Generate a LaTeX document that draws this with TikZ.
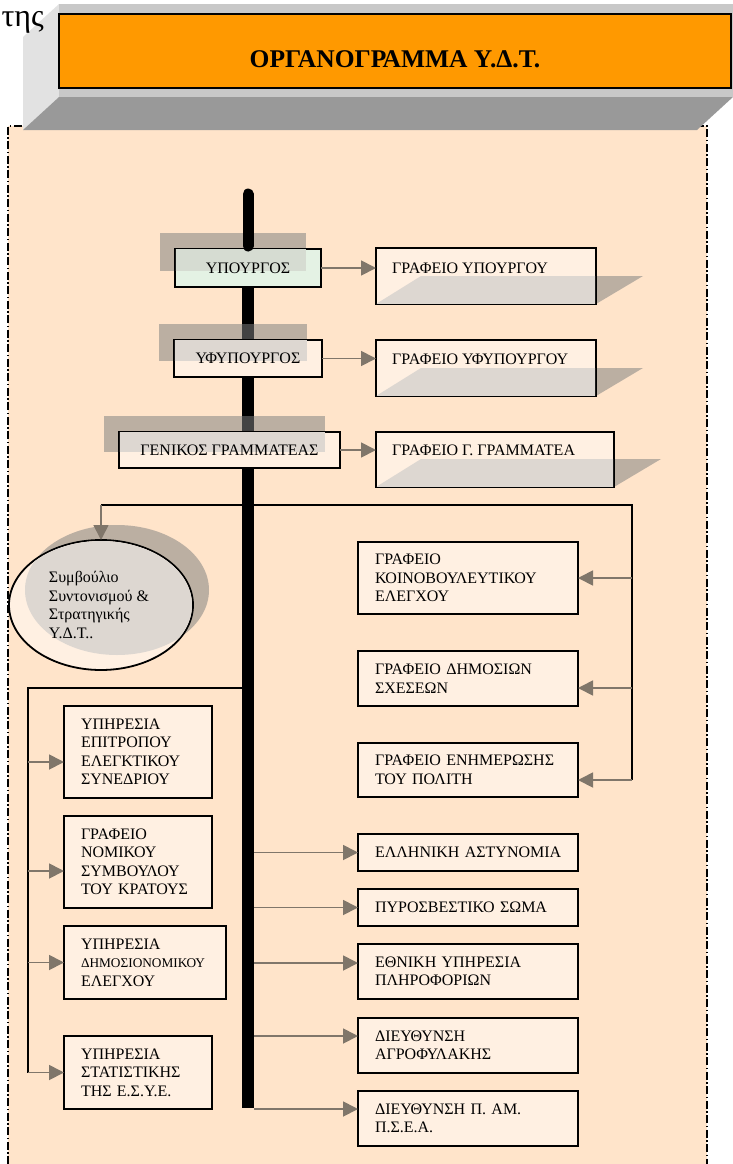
\documentclass[tikz,border=0pt]{standalone}
\usepackage{fontspec}
\setmainfont{Liberation Serif}
\usetikzlibrary{arrows.meta,shapes.geometric,calc}
\definecolor{peach}{RGB}{255,228,202}
\definecolor{boxfill}{RGB}{255,240,226}
\definecolor{ovlcol}{RGB}{221,215,209}
\definecolor{shgray}{RGB}{128,128,128}
\definecolor{arrcol}{RGB}{128,118,106}
\definecolor{mint}{RGB}{228,242,228}
\definecolor{mintovl}{RGB}{214,220,210}
\definecolor{titleorange}{RGB}{255,153,0}
\definecolor{stripgray}{RGB}{200,200,200}
\definecolor{facegray}{RGB}{226,226,226}
\definecolor{bevelgray}{RGB}{153,153,153}
\tikzset{
  bodyfont/.style={font=\fontsize{16}{18.5}\selectfont},
  obox/.style={draw=black, line width=1.8pt, fill=boxfill, inner sep=0pt, outer sep=0pt, bodyfont},
  lbox/.style={obox, text width=114pt, inner xsep=17pt, align=left},
  rbox/.style={obox, text width=186pt, inner xsep=17pt, align=left},
  gbox/.style={obox, inner xsep=16pt, align=left, anchor=north west},
  cbox/.style={obox, minimum height=37pt},
  shadowfill/.style={fill=shgray, fill opacity=0.53},
  ovl/.style={fill=ovlcol},
  conn/.style={draw=black, line width=1.5pt},
  arr/.style={draw=arrcol, line width=1.8pt, -{Triangle[length=15pt,width=15pt]}},
  panelborder/.style={draw=black, line width=2pt, dash pattern=on 8pt off 2.5pt on 1.5pt off 2.5pt},
}
\begin{document}
\begin{tikzpicture}[x=1pt,y=-1pt]
\useasboundingbox (0,0) rectangle (733,1164);
% panel
\fill[peach] (8,126) rectangle (707,1164);
\draw[panelborder] (8,1164) -- (8,126) -- (707,126) -- (707,1164);
% title block
\fill[facegray] (59,4) -- (23,37) -- (23,130) -- (59,97) -- cycle;
\fill[stripgray] (59,4) rectangle (733,97);
\fill[bevelgray] (59,97) -- (733,97) -- (697,130) -- (23,130) -- cycle;
\node[draw=black, line width=1.6pt, fill=titleorange, minimum width=672pt, inner sep=0pt, outer sep=0pt,
      text height=53pt, text depth=21pt, font=\fontsize{25.5}{28}\selectfont\bfseries] (title) at (395,51) {ΟΡΓΑΝΟΓΡΑΜΜΑ Υ.Δ.Τ.};
\node[anchor=base east, inner sep=0pt, font=\fontsize{32}{36}\selectfont] (tes) at (44,27) {της};
% bracket lines
\coordinate (tb1) at (101,505);
\coordinate (tb2) at (632,505);
\coordinate (tb3) at (632,780);
\draw[conn] (tb1) -- (tb2) -- (tb3);
\coordinate (lbA) at (248,688);
\coordinate (lbB) at (28,688);
\coordinate (lbC) at (28,1073);
\draw[conn] (lbA) -- (lbB) -- (lbC);
% spine
\coordinate (sptop) at (248,251);
\coordinate (spbot) at (248,1108);
\coordinate (spr) at (254,0);
\draw[line width=12pt] (sptop) -- (spbot);
% shadows
\fill[shadowfill] (160,233) rectangle (306,271);
\fill[shadowfill] (159,324) rectangle (307,361);
\fill[shadowfill] (104,416) rectangle (325,452);
\fill[shadowfill] (376,304) -- (421,276) -- (643,276) -- (596,304) -- cycle;
\fill[shadowfill] (376,396) -- (421,368) -- (643,368) -- (596,396) -- cycle;
\fill[shadowfill] (376,487) -- (421,459) -- (661,459) -- (614,487) -- cycle;
\fill[shadowfill] (117,590) ellipse [x radius=92, y radius=65];
% top boxes
\node[cbox, fill=mint, minimum width=146pt, minimum height=38pt] (yp) at (248,268) {};
\node[cbox, minimum width=148pt] (yfyp) at (248,358.5) {};
\node[cbox, minimum width=221pt, minimum height=36pt] (gg) at (229.5,450) {};
\node[gbox, text width=188pt, text height=25pt, text depth=31pt] (gyp) at (376,248) {};
\node[gbox, text width=188pt, text height=24pt, text depth=32pt] (gyfyp) at (376,340) {};
\node[gbox, text width=206pt, text height=23pt, text depth=32pt] (ggg) at (376,432) {};
% ellipse
\node[ellipse, draw=black, line width=1.8pt, fill=boxfill, minimum width=184pt, minimum height=130pt,
      inner sep=0pt, outer sep=0pt] (sc) at (101,605) {};
% overlaps of shadows inside shapes
\begin{scope}
  \clip ([shift={(0.9pt,0.9pt)}]yp.south west) rectangle ([shift={(-0.9pt,-0.9pt)}]yp.north east);
  \fill[mintovl] (160,233) rectangle (306,271);
\end{scope}
\begin{scope}
  \clip ([shift={(0.9pt,0.9pt)}]yfyp.south west) rectangle ([shift={(-0.9pt,-0.9pt)}]yfyp.north east);
  \fill[ovl] (159,324) rectangle (307,361);
\end{scope}
\begin{scope}
  \clip ([shift={(0.9pt,0.9pt)}]gg.south west) rectangle ([shift={(-0.9pt,-0.9pt)}]gg.north east);
  \fill[ovl] (104,416) rectangle (325,452);
\end{scope}
\begin{scope}
  \clip ([shift={(0.9pt,0.9pt)}]gyp.south west) rectangle ([shift={(-0.9pt,-0.9pt)}]gyp.north east);
  \fill[ovl] (376,304) -- (421,276) -- (643,276) -- (596,304) -- cycle;
\end{scope}
\begin{scope}
  \clip ([shift={(0.9pt,0.9pt)}]gyfyp.south west) rectangle ([shift={(-0.9pt,-0.9pt)}]gyfyp.north east);
  \fill[ovl] (376,396) -- (421,368) -- (643,368) -- (596,396) -- cycle;
\end{scope}
\begin{scope}
  \clip ([shift={(0.9pt,0.9pt)}]ggg.south west) rectangle ([shift={(-0.9pt,-0.9pt)}]ggg.north east);
  \fill[ovl] (376,487) -- (421,459) -- (661,459) -- (614,487) -- cycle;
\end{scope}
\begin{scope}
  \clip (sc.center) ellipse [x radius=91, y radius=64];
  \fill[ovl] (117,590) ellipse [x radius=92, y radius=65];
\end{scope}
% texts of the shadowed shapes
\node[bodyfont, inner sep=0pt] (ypt) at (yp.center) {ΥΠΟΥΡΓΟΣ};
\node[bodyfont, inner sep=0pt] (yfypt) at (yfyp.center) {ΥΦΥΠΟΥΡΓΟΣ};
\node[bodyfont, inner sep=0pt] (ggt) at (gg.center) {ΓΕΝΙΚΟΣ ΓΡΑΜΜΑΤΕΑΣ};
\node[bodyfont, inner sep=0pt, anchor=base west] (gypt) at (392,273) {ΓΡΑΦΕΙΟ ΥΠΟΥΡΓΟΥ};
\node[bodyfont, inner sep=0pt, anchor=base west] (gyfypt) at (392,364) {ΓΡΑΦΕΙΟ ΥΦΥΠΟΥΡΓΟΥ};
\node[bodyfont, inner sep=0pt, anchor=base west] (gggt) at (392,455) {ΓΡΑΦΕΙΟ Γ. ΓΡΑΜΜΑΤΕΑ};
\node[bodyfont, align=left, inner sep=0pt] (sct) at (99,605) {Συμβούλιο\\Συντονισμού \&\\Στρατηγικής\\Υ.Δ.Τ..};
% right boxes
\node[rbox, minimum height=72pt] (kb) at (468,578) {ΓΡΑΦΕΙΟ\\ΚΟΙΝΟΒΟΥΛΕΥΤΙΚΟΥ\\ΕΛΕΓΧΟΥ};
\node[rbox, minimum height=55pt] (ds) at (468,678.5) {ΓΡΑΦΕΙΟ~ΔΗΜΟΣΙΩΝ\\ΣΧΕΣΕΩΝ};
\node[rbox, minimum height=54pt] (en) at (468,770) {ΓΡΑΦΕΙΟ~ΕΝΗΜΕΡΩΣΗΣ\\ΤΟΥ~ΠΟΛΙΤΗ};
\node[rbox, minimum height=37pt] (ea) at (468,852.5) {ΕΛΛΗΝΙΚΗ~ΑΣΤΥΝΟΜΙΑ};
\node[rbox, minimum height=37pt] (ps) at (468,907.5) {ΠΥΡΟΣΒΕΣΤΙΚΟ~ΣΩΜΑ};
\node[rbox, minimum height=55pt] (eyp) at (468,971.5) {ΕΘΝΙΚΗ~ΥΠΗΡΕΣΙΑ\\ΠΛΗΡΟΦΟΡΙΩΝ};
\node[rbox, minimum height=55pt] (da) at (468,1045.5) {ΔΙΕΥΘΥΝΣΗ\\ΑΓΡΟΦΥΛΑΚΗΣ};
\node[rbox, minimum height=55pt] (dpa) at (468,1118.5) {ΔΙΕΥΘΥΝΣΗ~Π.~ΑΜ.\\Π.Σ.Ε.Α.};
% left boxes
\node[lbox, minimum height=92pt] (ep) at (138,752) {ΥΠΗΡΕΣΙΑ\\ΕΠΙΤΡΟΠΟΥ\\ΕΛΕΓΚΤΙΚΟΥ\\ΣΥΝΕΔΡΙΟΥ};
\node[lbox, minimum height=92pt] (nsk) at (138,862) {ΓΡΑΦΕΙΟ\\ΝΟΜΙΚΟΥ\\ΣΥΜΒΟΥΛΟΥ\\ΤΟΥ~ΚΡΑΤΟΥΣ};
\node[lbox, text width=128pt, minimum height=73pt] (ydo) at (145,962.5) {ΥΠΗΡΕΣΙΑ\\{\fontsize{13.3}{15}\selectfont ΔΗΜΟΣΙΟΝΟΜΙΚΟΥ}\\ΕΛΕΓΧΟΥ};
\node[lbox, minimum height=73pt] (ys) at (138,1072.5) {ΥΠΗΡΕΣΙΑ\\ΣΤΑΤΙΣΤΙΚΗΣ\\ΤΗΣ~Ε.Σ.Υ.Ε.};
% top spine segment
\coordinate (stA) at (248,194);
\coordinate (stB) at (248,246);
\draw[line width=11pt, line cap=round] (stA) -- (stB);
% arrows top
\draw[arr] (yp.east) -- (yp.east -| gyp.west);
\draw[arr] (yfyp.east) -- (yfyp.east -| gyfyp.west);
\draw[arr] (gg.east) -- (gg.east -| ggg.west);
% ellipse arrow
\draw[arr] (tb1) -- (sc.north);
% right bracket arrows
\coordinate (r2) at ([yshift=-9.5pt]ds.east);
\coordinate (r3) at ([yshift=-10pt]en.east);
\draw[arr] (tb2 |- kb.east) -- (kb.east);
\draw[arr] (tb2 |- r2) -- (r2);
\draw[arr] (tb2 |- r3) -- (r3);
% left bracket arrows
\coordinate (l1) at ([yshift=-10pt]ep.west);
\coordinate (l2) at ([yshift=-9pt]nsk.west);
\draw[arr] (lbB |- l1) -- (l1);
\draw[arr] (lbB |- l2) -- (l2);
\draw[arr] (lbB |- ydo.west) -- (ydo.west);
\draw[arr] (lbB |- ys.west) -- (ys.west);
% spine arrows
\coordinate (s3) at ([yshift=-19pt]eyp.north west);
\coordinate (s4) at ([yshift=-18pt]da.north west);
\coordinate (s5) at ([yshift=-18pt]dpa.north west);
\draw[arr] (spr |- ea.west) -- (ea.west);
\draw[arr] (spr |- ps.west) -- (ps.west);
\draw[arr] (spr |- s3) -- (s3);
\draw[arr] (spr |- s4) -- (s4);
\draw[arr] (spr |- s5) -- (s5);
\end{tikzpicture}
\end{document}
